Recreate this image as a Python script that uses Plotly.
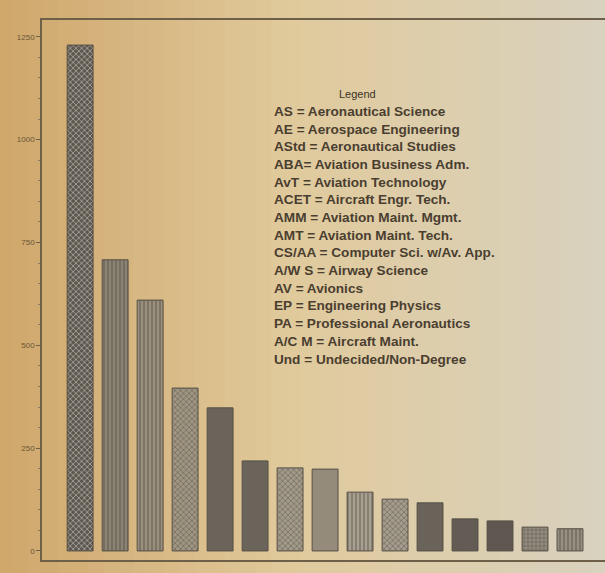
import plotly.graph_objects as go

# ---- data ----
programs = ["AS", "AE", "AStd", "ABA", "AvT", "ACET", "AMM", "AMT",
            "CS/AA", "A/W S", "AV", "EP", "PA", "A/C M", "Und"]
enrollment = [1230, 708, 610, 396, 348, 219, 202, 199,
              143, 126, 117, 78, 73, 58, 54]
y_ticks = [0, 250, 500, 750, 1000, 1250]
legend_lines = [
    "AS = Aeronautical Science",
    "AE = Aerospace Engineering",
    "AStd = Aeronautical Studies",
    "ABA= Aviation Business Adm.",
    "AvT = Aviation Technology",
    "ACET = Aircraft Engr. Tech.",
    "AMM = Aviation Maint. Mgmt.",
    "AMT = Aviation Maint. Tech.",
    "CS/AA = Computer Sci. w/Av. App.",
    "A/W S = Airway Science",
    "AV = Avionics",
    "EP = Engineering Physics",
    "PA = Professional Aeronautics",
    "A/C M = Aircraft Maint.",
    "Und = Undecided/Non-Degree",
]

# ---- styles ----
bar_colors = ["#5e574e", "#8d8372", "#9a8f7a", "#a09580", "#6c645a",
              "#6b645a", "#a39a88", "#958b7a", "#a89f8e", "#a59c8b",
              "#6a6359", "#625c54", "#5e5850", "#948b7c", "#988f80"]
bar_patterns = ["x", "|", "|", "x", "", "", "x", "", "|", "x",
                "", "", "", "+", "|"]
pattern_fg = "#5a534a"

fig = go.Figure()
fig.add_trace(go.Bar(
    x=programs, y=enrollment,
    marker=dict(color=bar_colors, line=dict(color="#564f46", width=1),
                pattern=dict(shape=bar_patterns, fgcolor=pattern_fg,
                             size=4, solidity=0.35)),
    width=0.74,
))

# paper-like background gradient (left tan -> right grey-beige)
shapes = []
n = 40
c0 = (208, 168, 108)
c1 = (225, 203, 158)
c2 = (217, 210, 190)
x_left, x_right = -0.08, 1.0
for i in range(n):
    t = i / (n - 1)
    if t < 0.5:
        u = t / 0.5
        c = tuple(int(c0[k] + (c1[k] - c0[k]) * u) for k in range(3))
    else:
        u = (t - 0.5) / 0.5
        c = tuple(int(c1[k] + (c2[k] - c1[k]) * u) for k in range(3))
    xa = x_left + (x_right - x_left) * i / n
    xb = x_left + (x_right - x_left) * (i + 1) / n + 0.002
    shapes.append(dict(type="rect", xref="paper", yref="paper",
                       x0=xa, x1=xb, y0=-0.03, y1=1.04,
                       fillcolor="rgb(%d,%d,%d)" % c, line=dict(width=0),
                       layer="below"))

fig.update_layout(
    width=605, height=573,
    margin=dict(l=42, r=0, t=20, b=13),
    paper_bgcolor="rgb(210,174,118)",
    plot_bgcolor="rgba(0,0,0,0)",
    showlegend=False,
    shapes=shapes,
    font=dict(family="Liberation Sans, Arial, sans-serif", color="#4a3f30"),
    xaxis=dict(range=[-1.09, 15.0], showticklabels=False, ticks="",
               showgrid=False, zeroline=False, showline=True, mirror=True,
               linecolor="#6e5f48", linewidth=1.5),
    yaxis=dict(range=[-22, 1291], tickvals=y_ticks, ticks="outside",
               ticklen=4, tickcolor="#6e5f48", showgrid=False,
               zeroline=False, showline=True, linecolor="#6e5f48",
               linewidth=1.5,
               tickfont=dict(size=8, color="#6b5535",
                             family="Liberation Sans Narrow, Arial Narrow, sans-serif"),
               minor=dict(ticks="outside", ticklen=2, dtick=50,
                          tickcolor="#8a7a60")),
    bargap=0.25,
)

fig.add_annotation(xref="paper", yref="paper", x=(357 - 42) / 563,
                   y=(553 - 87) / 540, text="Legend", showarrow=False,
                   font=dict(size=11, color="#3c3226"),
                   xanchor="center", yanchor="middle")
fig.add_annotation(xref="paper", yref="paper", x=(272 - 42) / 563,
                   y=(553 - 95) / 540,
                   text="<br>".join("<b>%s</b>" % s for s in legend_lines),
                   showarrow=False, align="left", xanchor="left",
                   yanchor="top",
                   font=dict(size=13.6, color="#4a3e30"))

fig.write_html("out.html",
               config={"displayModeBar": False},
               post_script="document.body.style.margin='0';"
                           "document.body.style.padding='0';")
